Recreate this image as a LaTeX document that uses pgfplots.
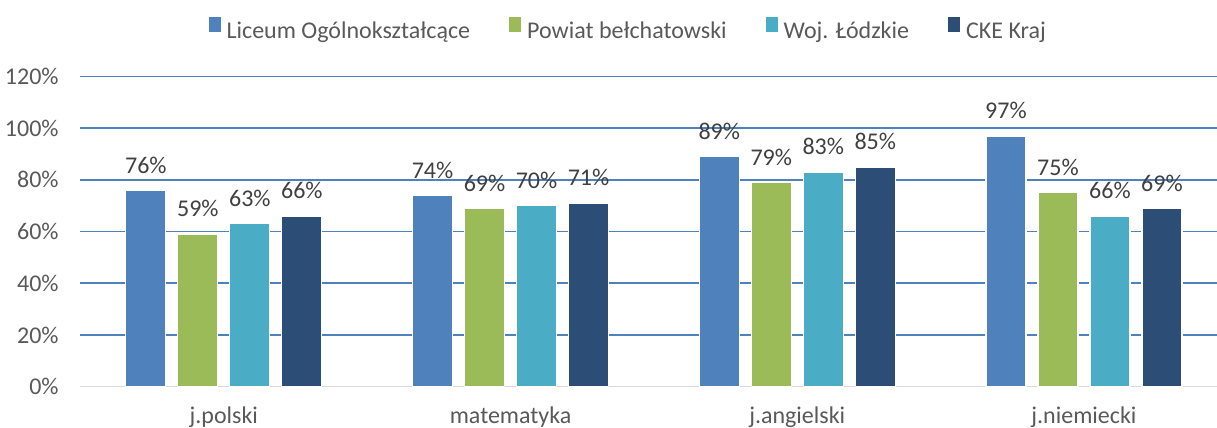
\documentclass[border=0pt]{standalone}
\usepackage{pgfplots}
\pgfplotsset{compat=1.18}
\usepackage{fontspec}
\setmainfont{Carlito}
\definecolor{c1}{HTML}{4F81BD}
\definecolor{c2}{HTML}{9BBB59}
\definecolor{c3}{HTML}{4BACC6}
\definecolor{c4}{HTML}{2C4D75}
\definecolor{gridc}{HTML}{4F81BD}
\definecolor{axc}{HTML}{D9D9D9}
\definecolor{txt}{HTML}{595959}
\definecolor{lab}{HTML}{404040}
\begin{document}
\begin{tikzpicture}[font=\fontsize{12}{14}\selectfont]
\useasboundingbox (-40.25pt,-20.65pt) rectangle (568.25pt,193.35pt);
\begin{axis}[
  at={(0pt,0pt)}, anchor=south west,
  scale only axis, width=568.25pt, height=155.1pt,
  /pgf/number format/assume math mode=true,
  ybar=6pt, bar width=20pt,
  enlargelimits=false,
  xmin=-0.5, xmax=3.464, ymin=0, ymax=120,
  xtick={0,1,2,3},
  xticklabels={j.polski,matematyka,j.angielski,j.niemiecki},
  ytick={20,40,60,80,100,120},
  yticklabels={20\%,40\%,60\%,80\%,100\%,120\%},
  extra y ticks={0}, extra y tick labels={0\%},
  extra y tick style={grid=none},
  ymajorgrids, grid style={draw=gridc, line width=0.8pt},
  axis x line*=bottom, axis y line*=left,
  x axis line style={draw=axc, line width=0.8pt, -},
  y axis line style={draw=none},
  major tick length=0pt, tick style={draw=none},
  yticklabel style={text=txt, anchor=east, inner sep=0pt, xshift=-10.75pt},
  xticklabel style={text=txt, anchor=base, inner sep=0pt, yshift=-18.6pt},
  nodes near coords={\pgfmathprintnumber{\pgfplotspointmeta}\%},
  every node near coord/.append style={anchor=base, inner sep=0pt, yshift=8.6pt, text=lab},
  legend columns=-1,
  legend style={at={(0.481,1.153)}, anchor=center, draw=none, fill=none,
    text=txt, nodes={inner sep=0pt},
    /tikz/every odd column/.append style={column sep=3pt},
    /tikz/every even column/.append style={column sep=19.5pt}},
  legend image code/.code={\fill[#1,draw=none] (0pt,0pt) rectangle (6pt,7.5pt);},
]
\addplot[fill=c1, draw=white, line width=0.6pt] coordinates {(0,76) (1,74) (2,89) (3,97)};
\addplot[fill=c2, draw=white, line width=0.6pt] coordinates {(0,59) (1,69) (2,79) (3,75)};
\addplot[fill=c3, draw=white, line width=0.6pt] coordinates {(0,63) (1,70) (2,83) (3,66)};
\addplot[fill=c4, draw=white, line width=0.6pt] coordinates {(0,66) (1,71) (2,85) (3,69)};
\legend{Liceum Ogólnokształcące, Powiat bełchatowski, Woj. Łódzkie, CKE Kraj}
\end{axis}
\end{tikzpicture}
\end{document}
